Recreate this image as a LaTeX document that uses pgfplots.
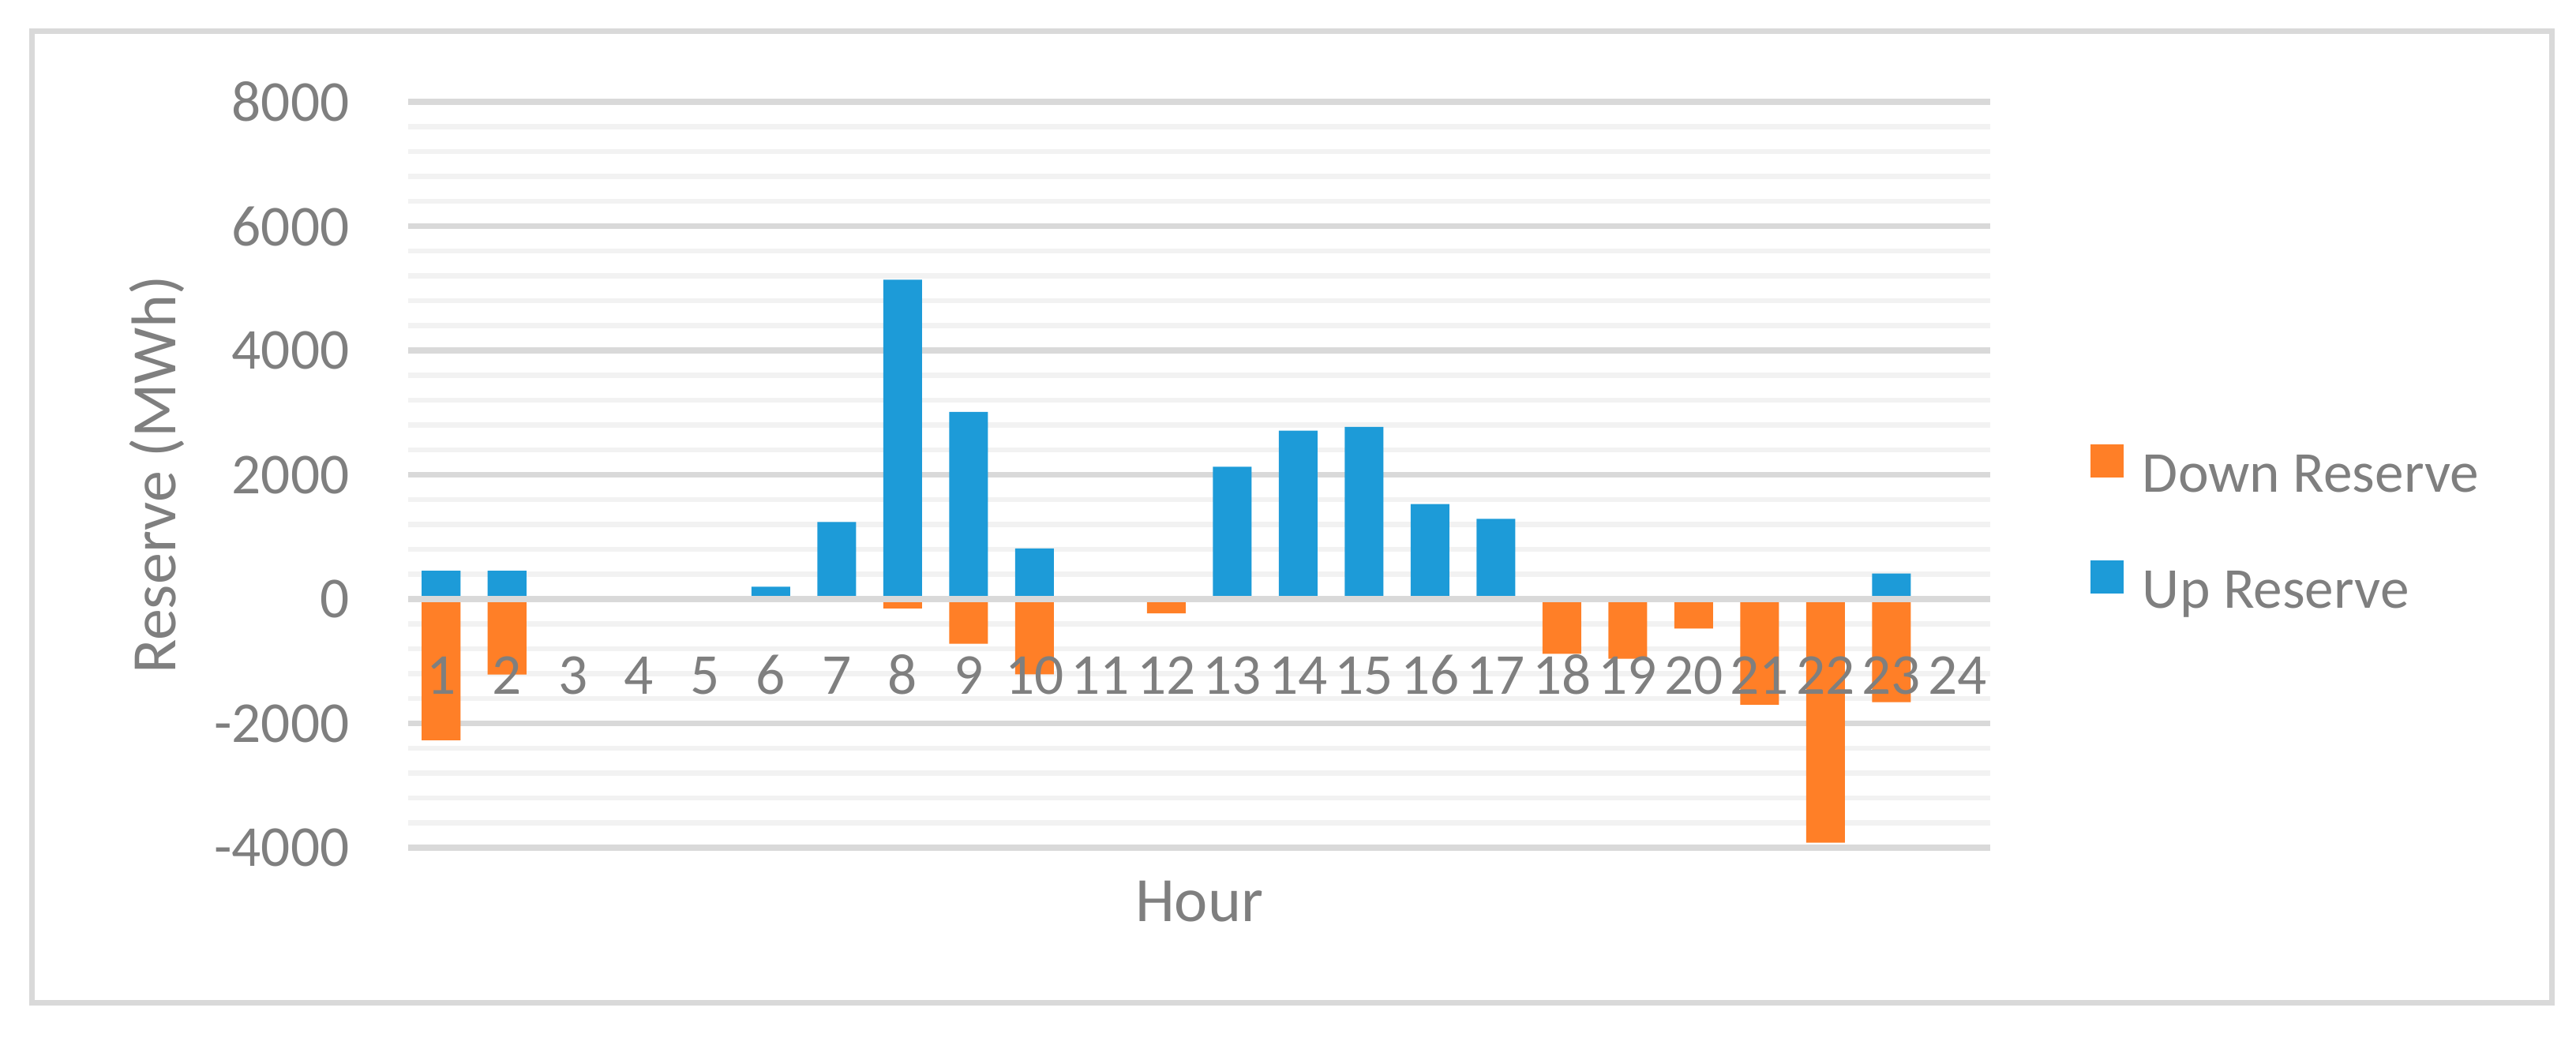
\documentclass[border=0pt]{standalone}
\usepackage{fontspec}
\setmainfont{Carlito}
\usepackage{pgfplots}
\pgfplotsset{compat=1.18}
\definecolor{txt}{HTML}{7F7F7F}
\definecolor{gmaj}{HTML}{D9D9D9}
\definecolor{gmin}{HTML}{F2F2F2}
\definecolor{cdown}{HTML}{FF7F27}
\definecolor{cup}{HTML}{1D9BD8}
\begin{document}
\begin{tikzpicture}
\useasboundingbox (-77.55pt,-37.35pt) rectangle (411.9pt,161.1pt);
\draw[gmaj, line width=1.05pt] (-71.4pt,-29.4pt) rectangle (407.25pt,155.1pt);
\begin{axis}[
  scale only axis, width=300.6pt, height=141.75pt,
  xmin=0.5, xmax=24.5, ymin=-4000, ymax=8000,
  axis line style={draw=none},
  major tick length=0pt, minor tick length=0pt,
  xtick=\empty,
  ytick={-4000,-2000,0,2000,4000,6000,8000},
  yticklabels={-4000,-2000,0,2000,4000,6000,8000},
  minor y tick num=4,
  ymajorgrids, yminorgrids,
  major grid style={gmaj, line width=1.15pt},
  minor grid style={gmin, line width=1pt},
  tick label style={font=\fontsize{11}{13}\selectfont, text=txt},
  yticklabel style={inner sep=0pt, xshift=-11pt},
  clip=false,
  legend style={at={(axis cs:26.02,2493)}, anchor=north west, draw=none, fill=none,
    inner sep=0pt, outer sep=0pt, row sep=10.5pt,
    font=\fontsize{11}{13}\selectfont, text=txt,
    nodes={inner sep=0pt, text height=8pt, text depth=2.5pt},
    /tikz/every odd column/.append style={column sep=3.6pt}},
  legend cell align=left,
  legend image code/.code={\fill[#1,draw=none] (0pt,0pt) rectangle (6.3pt,6.3pt);},
]
\addplot[ybar, bar width=7.35pt, bar shift=0pt, fill=cdown, draw=none] coordinates {
(1,-2270) (2,-1215) (3,0) (4,0) (5,0) (6,0) (7,0) (8,-150) (9,-720) (10,-1210)
(11,0) (12,-230) (13,0) (14,0) (15,0) (16,0) (17,0) (18,-880) (19,-960) (20,-475)
(21,-1700) (22,-3920) (23,-1660) (24,0)};
\addlegendentry{Down Reserve}
\addplot[ybar, bar width=7.35pt, bar shift=0pt, fill=cup, draw=none] coordinates {
(1,457) (2,457) (3,0) (4,0) (5,0) (6,200) (7,1240) (8,5140) (9,3010) (10,815)
(11,0) (12,25) (13,2130) (14,2710) (15,2770) (16,1530) (17,1290) (18,0) (19,0) (20,0)
(21,0) (22,0) (23,410) (24,0)};
\addlegendentry{Up Reserve}
\draw[gmaj, line width=1.15pt] (axis cs:0.5,0) -- (axis cs:24.5,0);
\pgfplotsinvokeforeach{1,...,24}{
  \node[anchor=base, inner sep=0pt, font=\fontsize{11}{13}\selectfont, text=txt] at (axis cs:#1,-1524) {#1};
}
\node[rotate=90, anchor=base, font=\fontsize{12}{14}\selectfont, text=txt] at (axis cs:-3.021,2000) {Reserve (MWh)};
\node[anchor=base, font=\fontsize{12}{14}\selectfont, text=txt] at (axis cs:12.5,-5181) {Hour};
\end{axis}
\end{tikzpicture}
\end{document}
